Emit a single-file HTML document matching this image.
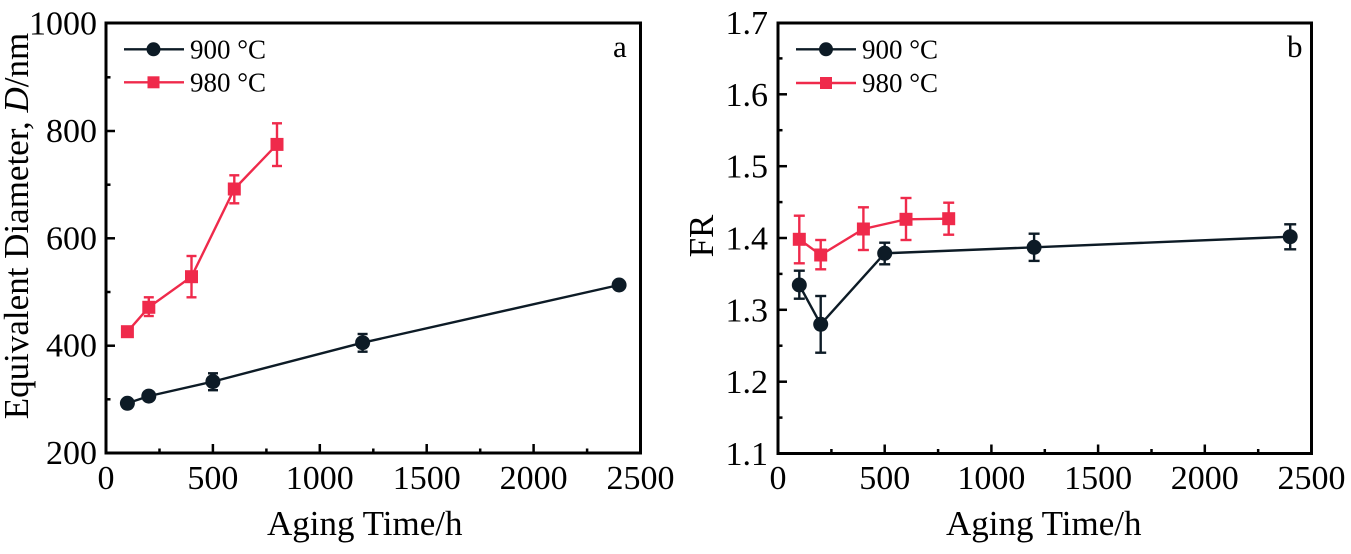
<!DOCTYPE html>
<html>
<head>
<meta charset="utf-8">
<style>
html,body{margin:0;padding:0;background:#fff;}
svg{display:block;}
text{font-family:"Liberation Serif","DejaVu Serif",serif;fill:#000;}
</style>
</head>
<body>
<svg width="1351" height="554" viewBox="0 0 1351 554" xmlns="http://www.w3.org/2000/svg">
<rect width="1351" height="554" fill="#fff"/>

<!-- ================= PANEL A ================= -->
<g>
  <g stroke="#000" stroke-width="2.5">
    <line x1="212.9" y1="453" x2="212.9" y2="444"/>
    <line x1="319.8" y1="453" x2="319.8" y2="444"/>
    <line x1="426.7" y1="453" x2="426.7" y2="444"/>
    <line x1="533.6" y1="453" x2="533.6" y2="444"/>
    <line x1="159.5" y1="453" x2="159.5" y2="448.5"/>
    <line x1="266.4" y1="453" x2="266.4" y2="448.5"/>
    <line x1="373.3" y1="453" x2="373.3" y2="448.5"/>
    <line x1="480.2" y1="453" x2="480.2" y2="448.5"/>
    <line x1="587.1" y1="453" x2="587.1" y2="448.5"/>
    <line x1="106" y1="345.7" x2="115" y2="345.7"/>
    <line x1="106" y1="238.3" x2="115" y2="238.3"/>
    <line x1="106" y1="131" x2="115" y2="131"/>
    <line x1="106" y1="399.3" x2="110.5" y2="399.3"/>
    <line x1="106" y1="292" x2="110.5" y2="292"/>
    <line x1="106" y1="184.7" x2="110.5" y2="184.7"/>
    <line x1="106" y1="77.3" x2="110.5" y2="77.3"/>
  </g>
  <rect x="106" y="23" width="534.5" height="430" fill="none" stroke="#000" stroke-width="3"/>

  <g font-size="34" text-anchor="middle">
    <text x="106" y="489">0</text>
    <text x="212.9" y="489">500</text>
    <text x="319.8" y="489">1000</text>
    <text x="426.7" y="489">1500</text>
    <text x="533.6" y="489">2000</text>
    <text x="640.5" y="489">2500</text>
  </g>
  <g font-size="34" text-anchor="end">
    <text x="97" y="464">200</text>
    <text x="97" y="356.7">400</text>
    <text x="97" y="249.3">600</text>
    <text x="97" y="142">800</text>
    <text x="97" y="34.7">1000</text>
  </g>
  <text x="267" y="535" font-size="35">Aging Time/h</text>
  <text transform="translate(28,226) rotate(-90)" font-size="35" text-anchor="middle">Equivalent Diameter, <tspan font-style="italic">D</tspan>/nm</text>
  <text x="613" y="57" font-size="31">a</text>

  <g stroke="#0d1b26" stroke-width="2.4" fill="none">
    <polyline points="127.4,403.3 148.8,396.1 212.9,381.6 362.6,342.7 619.1,285"/>
    <line x1="212.9" y1="373.3" x2="212.9" y2="390.2"/><line x1="208" y1="373.3" x2="218" y2="373.3"/><line x1="208" y1="390.2" x2="218" y2="390.2"/>
    <line x1="362.6" y1="334" x2="362.6" y2="351.7"/><line x1="357.6" y1="334" x2="367.6" y2="334"/><line x1="357.6" y1="351.7" x2="367.6" y2="351.7"/>
    <line x1="148.8" y1="392" x2="148.8" y2="400"/><line x1="144" y1="392" x2="153.8" y2="392"/><line x1="144" y1="400" x2="153.8" y2="400"/>
  </g>
  <g fill="#0d1b26">
    <circle cx="127.4" cy="403.3" r="7.5"/>
    <circle cx="148.8" cy="396.1" r="7.5"/>
    <circle cx="212.9" cy="381.6" r="7.5"/>
    <circle cx="362.6" cy="342.7" r="7.5"/>
    <circle cx="619.1" cy="285" r="7.5"/>
  </g>

  <g stroke="#ef2a4b" stroke-width="2.4" fill="none">
    <polyline points="127.4,331.7 148.8,307.3 191.5,276.7 234.3,189 277,144.4"/>
    <line x1="148.8" y1="297.3" x2="148.8" y2="316"/><line x1="143.8" y1="297.3" x2="153.8" y2="297.3"/><line x1="143.8" y1="316" x2="153.8" y2="316"/>
    <line x1="191.5" y1="256" x2="191.5" y2="297.3"/><line x1="186.5" y1="256" x2="196.5" y2="256"/><line x1="186.5" y1="297.3" x2="196.5" y2="297.3"/>
    <line x1="234.3" y1="175.3" x2="234.3" y2="203.3"/><line x1="229.3" y1="175.3" x2="239.3" y2="175.3"/><line x1="229.3" y1="203.3" x2="239.3" y2="203.3"/>
    <line x1="277" y1="123.3" x2="277" y2="166"/><line x1="272" y1="123.3" x2="282" y2="123.3"/><line x1="272" y1="166" x2="282" y2="166"/>
  </g>
  <g fill="#ef2a4b">
    <rect x="120.9" y="325.2" width="13" height="13"/>
    <rect x="142.3" y="300.8" width="13" height="13"/>
    <rect x="185" y="270.2" width="13" height="13"/>
    <rect x="227.8" y="182.5" width="13" height="13"/>
    <rect x="270.5" y="137.9" width="13" height="13"/>
  </g>

  <line x1="124" y1="49.3" x2="184" y2="49.3" stroke="#0d1b26" stroke-width="2.4"/>
  <circle cx="153.5" cy="49.3" r="7" fill="#0d1b26"/>
  <line x1="124" y1="82.3" x2="184" y2="82.3" stroke="#ef2a4b" stroke-width="2.4"/>
  <rect x="147.5" y="76.3" width="12" height="12" fill="#ef2a4b"/>
  <text x="190" y="58.5" font-size="27">900 °C</text>
  <text x="190" y="91.5" font-size="27">980 °C</text>
</g>

<!-- ================= PANEL B ================= -->
<g>
  <g stroke="#000" stroke-width="2.5">
    <line x1="884.7" y1="453.5" x2="884.7" y2="444.5"/>
    <line x1="991.4" y1="453.5" x2="991.4" y2="444.5"/>
    <line x1="1098.1" y1="453.5" x2="1098.1" y2="444.5"/>
    <line x1="1204.8" y1="453.5" x2="1204.8" y2="444.5"/>
    <line x1="831.4" y1="453.5" x2="831.4" y2="449"/>
    <line x1="938.1" y1="453.5" x2="938.1" y2="449"/>
    <line x1="1044.8" y1="453.5" x2="1044.8" y2="449"/>
    <line x1="1151.5" y1="453.5" x2="1151.5" y2="449"/>
    <line x1="1258.2" y1="453.5" x2="1258.2" y2="449"/>
    <line x1="778" y1="381.7" x2="787" y2="381.7"/>
    <line x1="778" y1="309.8" x2="787" y2="309.8"/>
    <line x1="778" y1="238" x2="787" y2="238"/>
    <line x1="778" y1="166.2" x2="787" y2="166.2"/>
    <line x1="778" y1="94.3" x2="787" y2="94.3"/>
    <line x1="778" y1="417.6" x2="782.5" y2="417.6"/>
    <line x1="778" y1="345.7" x2="782.5" y2="345.7"/>
    <line x1="778" y1="273.9" x2="782.5" y2="273.9"/>
    <line x1="778" y1="202.1" x2="782.5" y2="202.1"/>
    <line x1="778" y1="130.2" x2="782.5" y2="130.2"/>
    <line x1="778" y1="58.4" x2="782.5" y2="58.4"/>
  </g>
  <rect x="778" y="23" width="533.5" height="430.5" fill="none" stroke="#000" stroke-width="3"/>

  <g font-size="34" text-anchor="middle">
    <text x="778" y="489">0</text>
    <text x="884.7" y="489">500</text>
    <text x="991.4" y="489">1000</text>
    <text x="1098.1" y="489">1500</text>
    <text x="1204.8" y="489">2000</text>
    <text x="1311.5" y="489">2500</text>
  </g>
  <g font-size="34" text-anchor="end">
    <text x="768" y="465">1.1</text>
    <text x="768" y="393.2">1.2</text>
    <text x="768" y="321.3">1.3</text>
    <text x="768" y="249.5">1.4</text>
    <text x="768" y="177.7">1.5</text>
    <text x="768" y="105.8">1.6</text>
    <text x="768" y="34">1.7</text>
  </g>
  <text x="946" y="535" font-size="35">Aging Time/h</text>
  <text transform="translate(713,236) rotate(-90)" font-size="35" text-anchor="middle">FR</text>
  <text x="1287" y="57" font-size="31">b</text>

  <g stroke="#0d1b26" stroke-width="2.4" fill="none">
    <polyline points="799.3,285 820.7,324.3 884.7,253.3 1034.1,247.3 1290.2,236.7"/>
    <line x1="799.3" y1="270.7" x2="799.3" y2="298.7"/><line x1="793.8" y1="270.7" x2="804.8" y2="270.7"/><line x1="793.8" y1="298.7" x2="804.8" y2="298.7"/>
    <line x1="820.7" y1="296" x2="820.7" y2="352.7"/><line x1="815.2" y1="296" x2="826.2" y2="296"/><line x1="815.2" y1="352.7" x2="826.2" y2="352.7"/>
    <line x1="884.7" y1="242.7" x2="884.7" y2="264.3"/><line x1="879.2" y1="242.7" x2="890.2" y2="242.7"/><line x1="879.2" y1="264.3" x2="890.2" y2="264.3"/>
    <line x1="1034.1" y1="233.7" x2="1034.1" y2="260.9"/><line x1="1028.6" y1="233.7" x2="1039.6" y2="233.7"/><line x1="1028.6" y1="260.9" x2="1039.6" y2="260.9"/>
    <line x1="1290.2" y1="224.3" x2="1290.2" y2="249.3"/><line x1="1284.2" y1="224.3" x2="1296.2" y2="224.3"/><line x1="1284.2" y1="249.3" x2="1296.2" y2="249.3"/>
  </g>
  <g fill="#0d1b26">
    <circle cx="799.3" cy="285" r="7.5"/>
    <circle cx="820.7" cy="324.3" r="7.5"/>
    <circle cx="884.7" cy="253.3" r="7.5"/>
    <circle cx="1034.1" cy="247.3" r="7.5"/>
    <circle cx="1290.2" cy="236.7" r="7.5"/>
  </g>

  <g stroke="#ef2a4b" stroke-width="2.4" fill="none">
    <polyline points="799.3,239.3 820.7,255 863.4,229 906,219.3 948.7,218.7"/>
    <line x1="799.3" y1="215.7" x2="799.3" y2="263.3"/><line x1="793.8" y1="215.7" x2="804.8" y2="215.7"/><line x1="793.8" y1="263.3" x2="804.8" y2="263.3"/>
    <line x1="820.7" y1="240" x2="820.7" y2="269.3"/><line x1="815.2" y1="240" x2="826.2" y2="240"/><line x1="815.2" y1="269.3" x2="826.2" y2="269.3"/>
    <line x1="863.4" y1="207.3" x2="863.4" y2="250"/><line x1="857.9" y1="207.3" x2="868.9" y2="207.3"/><line x1="857.9" y1="250" x2="868.9" y2="250"/>
    <line x1="906" y1="198" x2="906" y2="240"/><line x1="900.5" y1="198" x2="911.5" y2="198"/><line x1="900.5" y1="240" x2="911.5" y2="240"/>
    <line x1="948.7" y1="202.7" x2="948.7" y2="234.7"/><line x1="943.2" y1="202.7" x2="954.2" y2="202.7"/><line x1="943.2" y1="234.7" x2="954.2" y2="234.7"/>
  </g>
  <g fill="#ef2a4b">
    <rect x="792.8" y="232.8" width="13" height="13"/>
    <rect x="814.2" y="248.5" width="13" height="13"/>
    <rect x="856.9" y="222.5" width="13" height="13"/>
    <rect x="899.5" y="212.8" width="13" height="13"/>
    <rect x="942.2" y="212.2" width="13" height="13"/>
  </g>

  <line x1="796" y1="49.3" x2="856" y2="49.3" stroke="#0d1b26" stroke-width="2.4"/>
  <circle cx="826" cy="49.3" r="7" fill="#0d1b26"/>
  <line x1="796" y1="83" x2="856" y2="83" stroke="#ef2a4b" stroke-width="2.4"/>
  <rect x="820" y="77" width="12" height="12" fill="#ef2a4b"/>
  <text x="862" y="58.5" font-size="27">900 °C</text>
  <text x="862" y="92" font-size="27">980 °C</text>
</g>
</svg>
</body>
</html>
